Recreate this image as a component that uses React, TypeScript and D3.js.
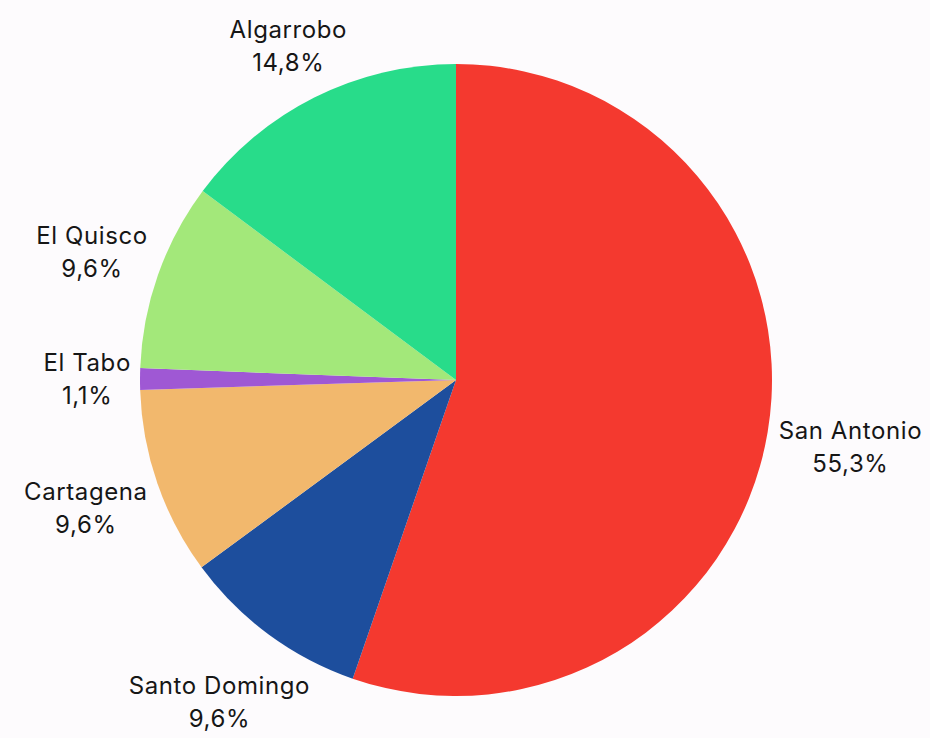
import React, { useEffect, useRef } from 'react';
import * as d3 from 'd3';

// comunas y su participación (%)
const comunas = ['San Antonio', 'Santo Domingo', 'Cartagena', 'El Tabo', 'El Quisco', 'Algarrobo'];
const porcentajes = [55.3, 9.6, 9.6, 1.1, 9.6, 14.8];
const colores = ['#f4392f', '#1d4e9d', '#f2b86d', '#9f58d4', '#a3e87a', '#28dc8a'];

const W = 930;
const H = 738;
const cx = 456;
const cy = 380;
const radius = 316;
const fontSize = 24;
const lineGap = 33;

const fmt = (v: number) => v.toFixed(1).replace('.', ',') + '%';

export default function App() {
  const svgRef = useRef<SVGSVGElement>(null);

  useEffect(() => {
    const svg = d3.select(svgRef.current);
    svg.selectAll('*').remove();

    const data = comunas.map((c, i) => ({ name: c, value: porcentajes[i], color: colores[i] }));
    const pie = d3.pie<any>().value((d: any) => d.value).sort(null);
    const arc = d3.arc<any>().innerRadius(0).outerRadius(radius);
    const arcs = pie(data);

    svg.append('rect').attr('width', W).attr('height', H).attr('fill', '#fdfbfd');

    const g = svg.append('g').attr('transform', `translate(${cx},${cy})`);

    g.selectAll('path.slice')
      .data(arcs)
      .join('path')
      .attr('class', 'slice')
      .attr('d', arc)
      .attr('fill', (d: any) => d.data.color);

    // labels outside, pushed along the radial direction until the box clears the circle
    const capH = fontSize * 0.73;
    const halfH = (lineGap + capH) / 2;
    const boxMidY = (lineGap - capH) / 2;
    const pad = 9;

    arcs.forEach((a: any) => {
      const mid = (a.startAngle + a.endAngle) / 2;
      const dx = Math.sin(mid);
      const dy = -Math.cos(mid);

      const label = g.append('text')
        .attr('text-anchor', 'middle')
        .attr('fill', '#161616')
        .style('font-family', 'Inter, "Noto Sans", sans-serif')
        .style('font-size', `${fontSize}px`)
        .style('letter-spacing', '0.6px');
      const t1 = label.append('tspan').attr('x', 0).attr('y', 0).text(a.data.name);
      const t2 = label.append('tspan').attr('x', 0).attr('y', lineGap).text(fmt(a.data.value));

      const w = Math.max(
        (t1.node() as SVGTextContentElement).getComputedTextLength(),
        (t2.node() as SVGTextContentElement).getComputedTextLength()
      ) / 2;
      const dist = radius + w * Math.abs(dx) + halfH * Math.abs(dy) + pad;
      const x = dx * dist;
      const y = dy * dist - boxMidY;
      label.attr('transform', `translate(${x},${y})`);
    });
  }, []);

  return (
    <svg
      ref={svgRef}
      width={W}
      height={H}
      style={{ position: 'absolute', left: 0, top: 0, display: 'block' }}
    />
  );
}
